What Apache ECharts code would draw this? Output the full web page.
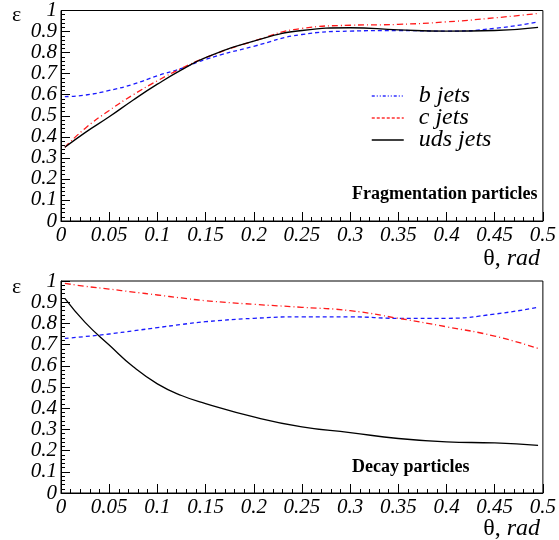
<!DOCTYPE html>
<html><head><meta charset="utf-8">
<script src="https://cdn.jsdelivr.net/npm/echarts@6/dist/echarts.min.js"></script>
<style>html,body{margin:0;padding:0;background:#fff}#c{width:559px;height:540px}</style>
</head><body><div id="c"></div>
<script>
// Fragmentation particles (top panel)
var thetaTop = [0.004, 0.025, 0.05, 0.075, 0.1, 0.125, 0.15, 0.2, 0.25, 0.3, 0.35, 0.4, 0.45, 0.495];
var fragB   = [0.591, 0.598, 0.62, 0.65, 0.69, 0.725, 0.768, 0.83, 0.886, 0.902, 0.905, 0.902, 0.915, 0.946];
var fragC   = [0.35, 0.44, 0.525, 0.6, 0.666, 0.725, 0.776, 0.855, 0.915, 0.93, 0.934, 0.946, 0.965, 0.986];
var fragUds = [0.35, 0.42, 0.495, 0.575, 0.65, 0.718, 0.776, 0.855, 0.905, 0.918, 0.908, 0.902, 0.905, 0.92];
// Decay particles (bottom panel)
var thetaBot = [0.004, 0.025, 0.05, 0.075, 0.1, 0.125, 0.15, 0.2, 0.25, 0.3, 0.35, 0.4, 0.45, 0.495];
var decB   = [0.729, 0.738, 0.75, 0.765, 0.78, 0.795, 0.808, 0.824, 0.831, 0.831, 0.824, 0.824, 0.844, 0.876];
var decC   = [0.989, 0.975, 0.962, 0.948, 0.934, 0.92, 0.907, 0.89, 0.876, 0.86, 0.824, 0.784, 0.74, 0.682];
var decUds = [0.918, 0.805, 0.698, 0.595, 0.515, 0.46, 0.422, 0.359, 0.312, 0.285, 0.257, 0.241, 0.236, 0.225];
var xTicks = [0, 0.05, 0.1, 0.15, 0.2, 0.25, 0.3, 0.35, 0.4, 0.45, 0.5];
var yTicks = [0, 0.1, 0.2, 0.3, 0.4, 0.5, 0.6, 0.7, 0.8, 0.9, 1];
var seriesNames = ['b jets', 'c jets', 'uds jets'];
var panelLabels = ['Fragmentation particles', 'Decay particles'];

function pairs(xs, ys){ return xs.map(function(x,i){ return [x, ys[i]]; }); }

var serif = 'Liberation Serif';
var blueDash = [4,3];
var redDashDot = [6,3,1,3];

function xAx(gi){
  return {
    type:'value', gridIndex:gi, min:xTicks[0], max:xTicks[xTicks.length-1], interval:0.05,
    axisLine:{show:true, onZero:false, lineStyle:{color:'#000', width:1}},
    axisTick:{show:true, inside:true, length:9, lineStyle:{color:'#000'}},
    minorTick:{show:true, splitNumber:5, length:4, lineStyle:{color:'#000'}},
    splitLine:{show:false},
    axisLabel:{color:'#000', fontFamily:serif, fontStyle:'italic', fontSize:21, margin:4,
      formatter:function(v){ return String(+v.toFixed(2)); }}
  };
}
function yAx(gi){
  return {
    type:'value', gridIndex:gi, min:yTicks[0], max:yTicks[yTicks.length-1], interval:0.1,
    axisLine:{show:true, onZero:false, lineStyle:{color:'#000', width:1}},
    axisTick:{show:true, inside:true, length:9, lineStyle:{color:'#000'}},
    minorTick:{show:true, splitNumber:5, length:4, lineStyle:{color:'#000'}},
    splitLine:{show:false},
    axisLabel:{color:'#000', fontFamily:serif, fontStyle:'italic', fontSize:21, margin:4,
      formatter:function(v){ return String(+v.toFixed(1)); }}
  };
}
function ser(name, gi, xs, ys, color, type, width){
  return {type:'line', name:name, xAxisIndex:gi, yAxisIndex:gi, data:pairs(xs, ys),
    smooth:true, symbol:'none', showSymbol:false,
    lineStyle:{color:color, type:type, width:width}, itemStyle:{color:color}};
}
var hidden = {color:'rgba(0,0,0,0)', borderColor:'rgba(0,0,0,0)', borderWidth:0, opacity:0};

var chart = echarts.init(document.getElementById('c'), null, {renderer:'canvas'});
chart.setOption({
  animation:false,
  backgroundColor:'#fff',
  grid:[
    {left:61, right:14, top:9, height:212, show:true, borderColor:'#000', borderWidth:1, containLabel:false},
    {left:61, right:14, top:281, height:212, show:true, borderColor:'#000', borderWidth:1, containLabel:false}
  ],
  xAxis:[xAx(0), xAx(1)],
  yAxis:[yAx(0), yAx(1)],
  legend:{
    show:true, orient:'vertical', left:366, top:79, itemWidth:32, itemHeight:12, itemGap:-2,
    itemStyle:hidden,
    textStyle:{fontFamily:serif, fontStyle:'italic', fontSize:24, lineHeight:20, color:'#000', padding:[0,0,0,10]},
    data:[
      {name:seriesNames[0], itemStyle:hidden, lineStyle:{color:'#3030ff', type:[3,2,1,2,1,2], width:1.5}},
      {name:seriesNames[1], itemStyle:hidden, lineStyle:{color:'#ff3030', type:[3,2], width:1.5}},
      {name:seriesNames[2], itemStyle:hidden, lineStyle:{color:'#000', type:'solid', width:1.5}}
    ]
  },
  series:[
    ser(seriesNames[0], 0, thetaTop, fragB, '#1a1aff', blueDash, 1.3),
    ser(seriesNames[1], 0, thetaTop, fragC, '#ff1a1a', redDashDot, 1.3),
    ser(seriesNames[2], 0, thetaTop, fragUds, '#000', 'solid', 1.3),
    ser(seriesNames[0], 1, thetaBot, decB, '#1a1aff', blueDash, 1.3),
    ser(seriesNames[1], 1, thetaBot, decC, '#ff1a1a', redDashDot, 1.3),
    ser(seriesNames[2], 1, thetaBot, decUds, '#000', 'solid', 1.3)
  ],
  graphic:[
    {type:'text', left:12, top:4, style:{text:'ε', font:'22px "Liberation Serif"', fill:'#000'}},
    {type:'text', left:12, top:276, style:{text:'ε', font:'22px "Liberation Serif"', fill:'#000'}},
    {type:'text', right:19, top:247, style:{rich:{a:{font:'24px "Liberation Serif"'}, b:{font:'italic 24px "Liberation Serif"'}}, text:'{a|θ, }{b|rad}', fill:'#000'}},
    {type:'text', right:19, top:517, style:{rich:{a:{font:'24px "Liberation Serif"'}, b:{font:'italic 24px "Liberation Serif"'}}, text:'{a|θ, }{b|rad}', fill:'#000'}},
    {type:'text', left:352, top:185, style:{text:panelLabels[0], font:'bold 18px "Liberation Serif"', fill:'#000'}},
    {type:'text', left:352, top:458, style:{text:panelLabels[1], font:'bold 18px "Liberation Serif"', fill:'#000'}}
  ]
});
</script>
</body></html>
